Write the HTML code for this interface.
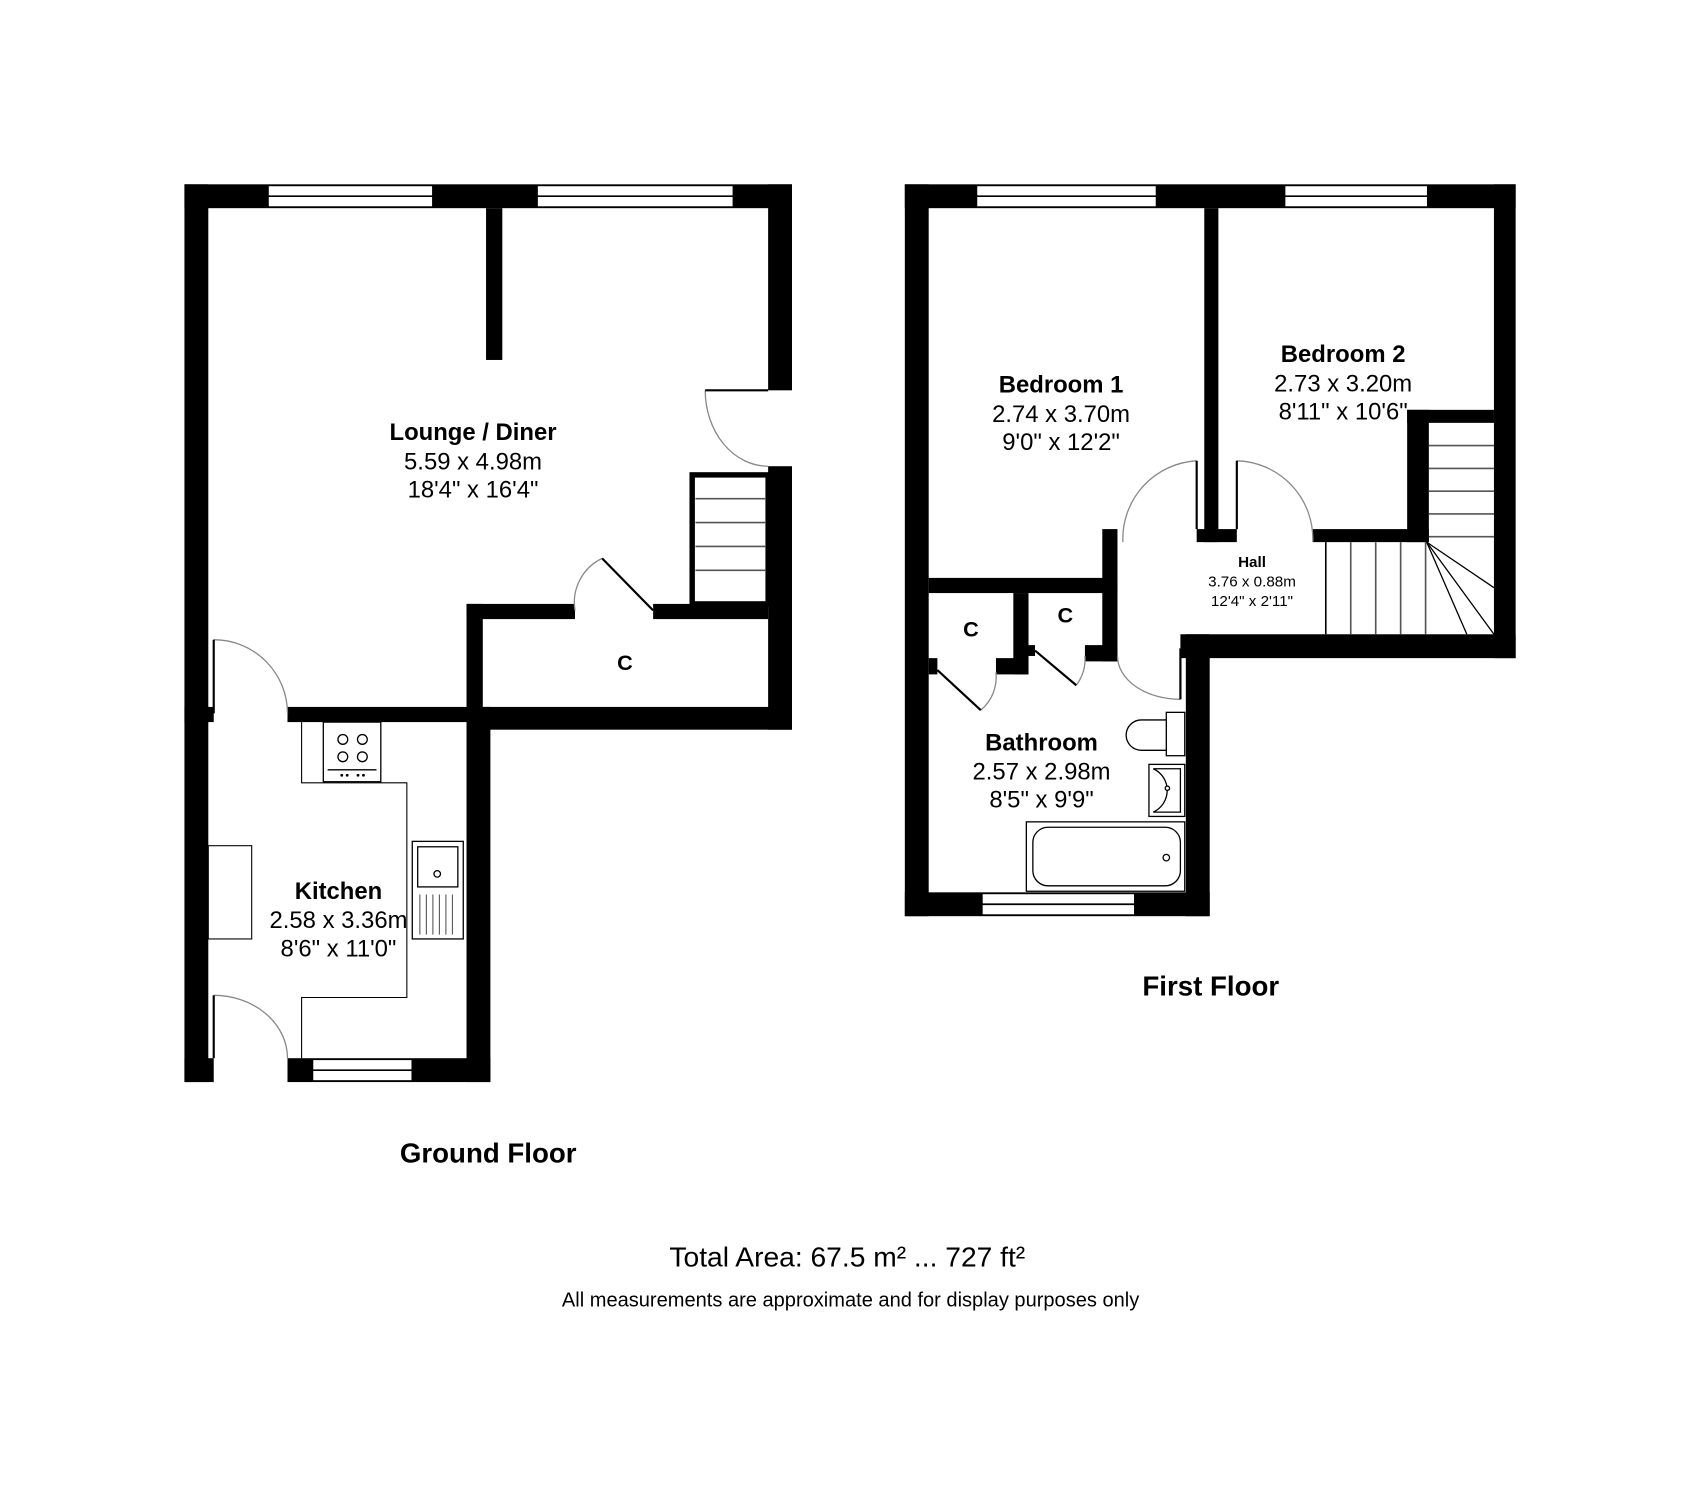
<!DOCTYPE html>
<html><head><meta charset="utf-8"><style>
html,body{margin:0;padding:0;background:#fff;}
svg{display:block;}
text{font-family:"Liberation Sans",Arial,sans-serif;fill:#000;}
.b{font-weight:bold;}
</style></head><body>
<svg width="1699" height="1506" viewBox="0 0 1566 1389" preserveAspectRatio="none" xmlns="http://www.w3.org/2000/svg">
<rect width="1566" height="1389" fill="#fff"/>
<g fill="#000">
<rect x="170" y="170" width="560" height="22"/>
<rect x="170" y="170" width="22" height="828"/>
<rect x="708" y="170" width="22" height="190"/>
<rect x="708" y="430" width="22" height="243"/>
<rect x="448" y="192" width="15" height="140"/>
<rect x="430" y="557" width="100" height="14"/>
<rect x="602" y="557" width="106" height="14"/>
<rect x="430" y="557" width="15" height="109"/>
<rect x="430" y="652" width="300" height="21"/>
<rect x="265" y="652" width="180" height="14"/>
<rect x="430" y="652" width="22" height="346"/>
<rect x="170" y="652" width="27" height="14"/>
<rect x="170" y="976" width="27" height="22"/>
<rect x="265" y="976" width="187" height="22"/>
<rect x="834" y="170" width="563" height="22"/>
<rect x="834" y="170" width="22" height="675"/>
<rect x="1377" y="170" width="20" height="437"/>
<rect x="1110" y="192" width="13" height="308"/>
<rect x="1103" y="488" width="37" height="12"/>
<rect x="856" y="533" width="174" height="14"/>
<rect x="1016" y="488" width="14" height="122"/>
<rect x="1297" y="378" width="20" height="122"/>
<rect x="1297" y="378" width="80" height="12"/>
<rect x="1210" y="488" width="107" height="12"/>
<rect x="1088" y="585" width="309" height="22"/>
<rect x="1093" y="585" width="22" height="260"/>
<rect x="834" y="823" width="281" height="22"/>
<rect x="934" y="547" width="14" height="75"/>
<rect x="856" y="607" width="8" height="15"/>
<rect x="918" y="607" width="30" height="15"/>
<rect x="1000" y="595" width="30" height="15"/>
<rect x="948" y="595" width="6" height="10"/>
</g>
<g fill="#fff" stroke="#000" stroke-width="1.5">
<rect x="247" y="171" width="152" height="20"/><line x1="247" y1="181" x2="399" y2="181"/>
<rect x="495" y="171" width="181" height="20"/><line x1="495" y1="181" x2="676" y2="181"/>
<rect x="288" y="977" width="92" height="20"/><line x1="288" y1="987" x2="380" y2="987"/>
<rect x="900" y="171" width="166" height="20"/><line x1="900" y1="181" x2="1066" y2="181"/>
<rect x="1184" y="171" width="132" height="20"/><line x1="1184" y1="181" x2="1316" y2="181"/>
<rect x="905" y="824" width="141" height="20"/><line x1="905" y1="834" x2="1046" y2="834"/>
</g>
<g fill="none" stroke="#888" stroke-width="1.2">
<path d="M650 360 A58 70 0 0 0 708 430"/>
<path d="M197 590 A68 68 0 0 1 265 658"/>
<path d="M197 918 A68 58 0 0 1 265 976"/>
<path d="M530 563 A45 45 0 0 1 555 515"/>
<path d="M1035 500 A72 72 0 0 1 1103 425"/>
<path d="M1140 425 A72 72 0 0 1 1210 500"/>
<path d="M1030 605 A58 40 0 0 0 1088 645"/>
<path d="M904 655 A40 40 0 0 0 918 620"/>
<path d="M992 632 A40 40 0 0 0 1000 605"/>
</g>
<g stroke="#000" stroke-width="2" fill="none">
<line x1="650" y1="360" x2="708" y2="360"/>
<line x1="197" y1="590" x2="197" y2="658"/>
<line x1="197" y1="918" x2="197" y2="976"/>
<line x1="555" y1="515" x2="602" y2="563"/>
<line x1="1103" y1="425" x2="1103" y2="488"/>
<line x1="1140" y1="425" x2="1140" y2="488"/>
<line x1="864" y1="618" x2="904" y2="655"/>
<line x1="954" y1="600" x2="992" y2="632"/>
<line x1="1088" y1="598" x2="1088" y2="645"/>
</g>
<g stroke="#555" stroke-width="1.5" fill="none">
<rect x="638" y="438" width="70" height="119" stroke="#000" stroke-width="5"/>
<line x1="641" y1="460" x2="706" y2="460"/><line x1="641" y1="482" x2="706" y2="482"/>
<line x1="641" y1="504" x2="706" y2="504"/><line x1="641" y1="526" x2="706" y2="526"/>
</g>
<g stroke="#555" stroke-width="1.5" fill="none">
<line x1="1222" y1="500" x2="1222" y2="585" stroke="#000"/>
<line x1="1245" y1="500" x2="1245" y2="585"/><line x1="1268" y1="500" x2="1268" y2="585"/>
<line x1="1291" y1="500" x2="1291" y2="585"/><line x1="1314" y1="500" x2="1314" y2="585"/>
<line x1="1317" y1="411" x2="1377" y2="411"/><line x1="1317" y1="432" x2="1377" y2="432"/>
<line x1="1317" y1="453" x2="1377" y2="453"/><line x1="1317" y1="474" x2="1377" y2="474"/>
<line x1="1317" y1="495" x2="1377" y2="495"/>
</g>
<g stroke="#000" stroke-width="1.2">
<line x1="1315" y1="500" x2="1377" y2="542"/>
<line x1="1315" y1="500" x2="1377" y2="585"/>
<line x1="1315" y1="500" x2="1352" y2="585"/>
</g>
<g fill="none" stroke="#000" stroke-width="1">
<path d="M278 666 V722 H375 V920 H278 V976"/>
<rect x="192" y="780" width="40" height="86"/>
</g>
<g fill="#fff" stroke="#000" stroke-width="1.2">
<rect x="298" y="666" width="53" height="55"/>
<circle cx="316" cy="682" r="4.5"/><circle cx="334" cy="682" r="4.5"/>
<circle cx="316" cy="698" r="4.5"/><circle cx="334" cy="698" r="4.5"/>
<line x1="302" y1="710" x2="347" y2="710"/>
<rect x="380" y="776" width="47" height="90"/>
<rect x="385" y="781" width="37" height="37"/>
<circle cx="403" cy="806" r="3"/>
</g>
<g stroke="#555" stroke-width="1"><line x1="387" y1="825" x2="387" y2="862"/><line x1="393" y1="825" x2="393" y2="862"/><line x1="399" y1="825" x2="399" y2="862"/><line x1="405" y1="825" x2="405" y2="862"/><line x1="411" y1="825" x2="411" y2="862"/><line x1="417" y1="825" x2="417" y2="862"/></g>
<g fill="#000"><circle cx="315" cy="715" r="1.3"/><circle cx="320" cy="715" r="1.3"/><circle cx="330" cy="715" r="1.3"/><circle cx="335" cy="715" r="1.3"/></g>
<g fill="#fff" stroke="#000" stroke-width="1.2">
<rect x="1075" y="657" width="17" height="40"/>
<path d="M1075 664 H1052 A14 14 0 0 0 1052 692 H1075 Z"/>
<rect x="1059" y="705" width="33" height="48"/>
<path d="M1063 709 H1088 V749 H1063 A22 22 0 0 0 1063 709 Z" fill="none"/>
<rect x="946" y="758" width="146" height="64"/>
<rect x="952" y="763" width="136" height="54" rx="14"/>
<circle cx="1075" cy="791" r="3"/>
<circle cx="1076" cy="727" r="2"/>
</g>
<g text-anchor="middle">
<text x="436" y="406" font-size="22" class="b">Lounge / Diner</text>
<text x="436" y="433" font-size="22">5.59 x 4.98m</text>
<text x="436" y="459" font-size="22">18'4" x 16'4"</text>
<text x="576" y="618" font-size="20" class="b">C</text>
<text x="312" y="829" font-size="22" class="b">Kitchen</text>
<text x="312" y="856" font-size="22">2.58 x 3.36m</text>
<text x="312" y="882" font-size="22">8'6" x 11'0"</text>
<text x="978" y="362" font-size="22" class="b">Bedroom 1</text>
<text x="978" y="389" font-size="22">2.74 x 3.70m</text>
<text x="978" y="415" font-size="22">9'0" x 12'2"</text>
<text x="1238" y="334" font-size="22" class="b">Bedroom 2</text>
<text x="1238" y="361" font-size="22">2.73 x 3.20m</text>
<text x="1238" y="387" font-size="22">8'11" x 10'6"</text>
<text x="1154" y="523" font-size="14" class="b">Hall</text>
<text x="1154" y="541" font-size="14">3.76 x 0.88m</text>
<text x="1154" y="559" font-size="14">12'4" x 2'11"</text>
<text x="895" y="587" font-size="20" class="b">C</text>
<text x="982" y="574" font-size="20" class="b">C</text>
<text x="960" y="692" font-size="22" class="b">Bathroom</text>
<text x="960" y="719" font-size="22">2.57 x 2.98m</text>
<text x="960" y="745" font-size="22">8'5" x 9'9"</text>
<text x="1116" y="918" font-size="25.5" class="b">First Floor</text>
<text x="450" y="1072" font-size="25.5" class="b">Ground Floor</text>
<text x="781" y="1168" font-size="26">Total Area: 67.5 m² ... 727 ft²</text>
<text x="784" y="1205" font-size="18.5">All measurements are approximate and for display purposes only</text>
</g>
</svg>
</body></html>
